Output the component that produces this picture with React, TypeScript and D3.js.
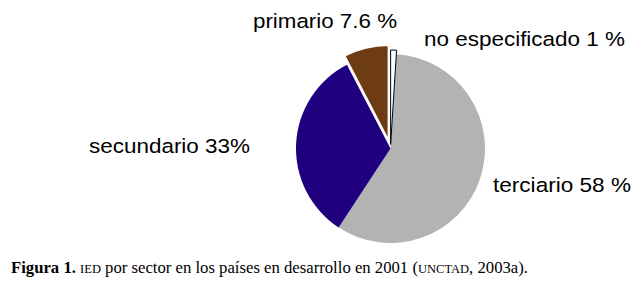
import React from "react";
import * as d3 from "d3";

const categories = ["no especificado", "terciario", "secundario", "primario"];
const values = [1, 58, 33, 7.6];
const labels = ["no especificado 1 %", "terciario 58 %", "secundario 33%", "primario 7.6 %"];

const colors = ["#ffffff", "#b3b3b3", "#210080", "#6e3c12"];
const explode = [4, 0, 0, 9];
const labelPos = [
  { x: 424, y: 46, w: 201 },
  { x: 493, y: 192, w: 138 },
  { x: 89, y: 153, w: 161 },
  { x: 253, y: 28, w: 144 },
];

export default function App() {
  const W = 637, H = 282;
  const cx = 390.5, cy = 148.5, r = 94.5;
  const pie = d3.pie<number>().sort(null).value((d) => d);
  const arcs = pie(values);
  const arcGen = d3.arc<d3.PieArcDatum<number>>().innerRadius(0).outerRadius(r);
  const order = [1, 2, 3, 0];
  return (
    <svg width={W} height={H} style={{ position: "absolute", left: 0, top: 0, background: "#fff" }}>
      <rect width={W} height={H} fill="#fff" />
      <g transform={`translate(${cx},${cy})`}>
        {order.map((i) => {
          const a = arcs[i];
          const mid = (a.startAngle + a.endAngle) / 2;
          const dx = explode[i] * Math.sin(mid);
          const dy = -explode[i] * Math.cos(mid);
          return (
            <path
              key={categories[i]}
              d={arcGen(a) || ""}
              transform={`translate(${dx},${dy})`}
              fill={colors[i]}
              stroke={i === 0 ? "#000" : i === 3 ? "#fff" : "none"}
              strokeWidth={i === 0 ? 1 : 1.5}
            />
          );
        })}
      </g>
      {labels.map((t, i) => (
        <text
          key={t}
          x={labelPos[i].x}
          y={labelPos[i].y}
          fontFamily="'Liberation Sans', Arial, sans-serif"
          fontSize={20.5}
          fill="#000"
          textLength={labelPos[i].w}
          lengthAdjust="spacingAndGlyphs"
        >
          {t}
        </text>
      ))}
      <text
        x={11}
        y={273}
        fontFamily="'Liberation Serif', 'Times New Roman', serif"
        fontSize={16}
        fill="#000"
        textLength={517}
        lengthAdjust="spacingAndGlyphs"
      >
        <tspan fontWeight="bold">Figura 1.</tspan>
        <tspan>{"  "}</tspan>
        <tspan fontSize={12}>IED</tspan>
        <tspan> por sector en los países en desarrollo en 2001 (</tspan>
        <tspan fontSize={12}>UNCTAD</tspan>
        <tspan>, 2003a).</tspan>
      </text>
    </svg>
  );
}
